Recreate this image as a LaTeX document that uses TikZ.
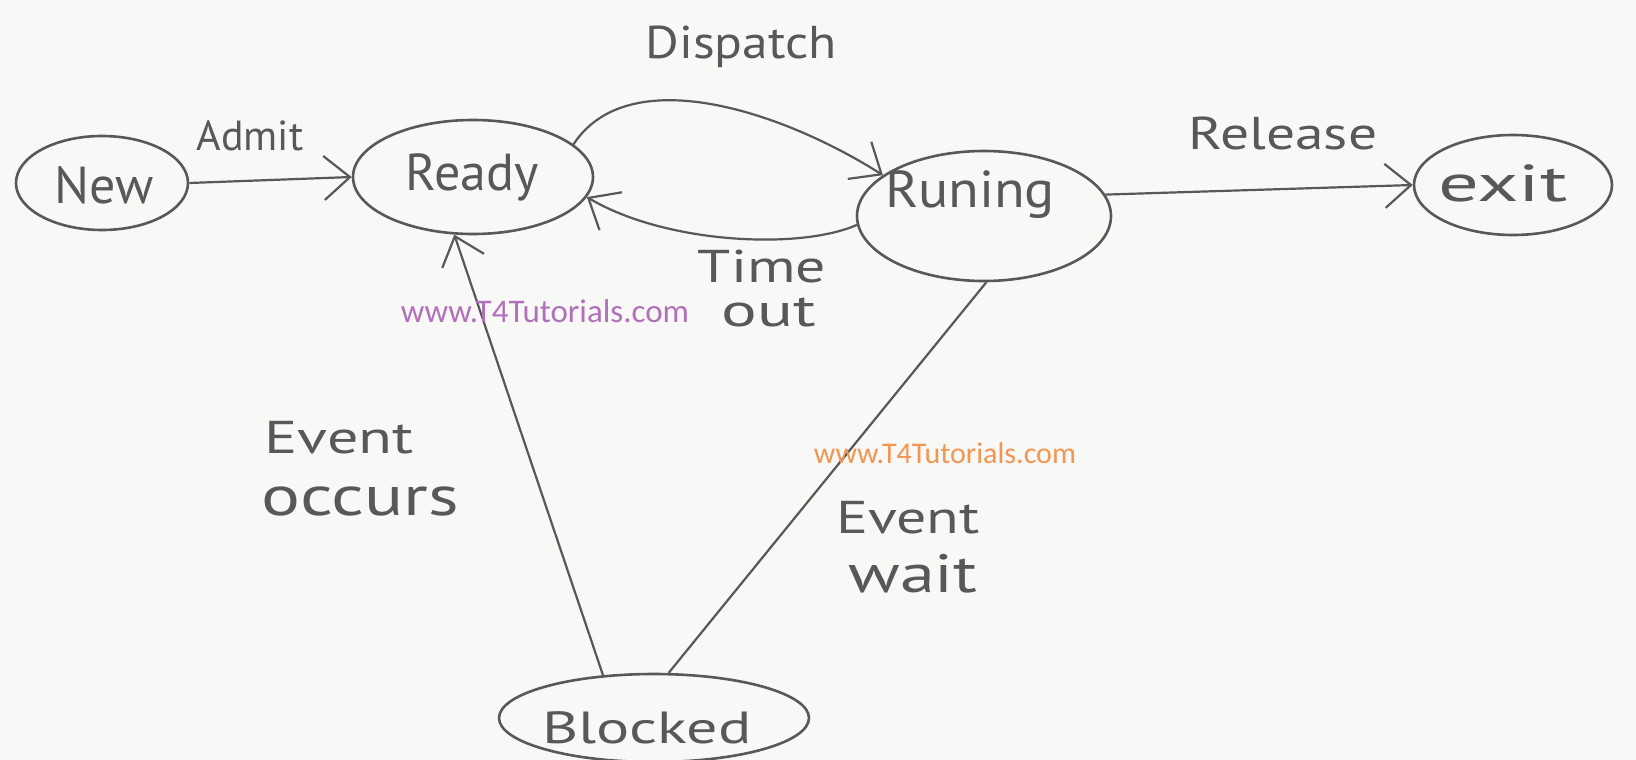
\documentclass[tikz,border=0pt]{standalone}
\usepackage{fontspec}
\setmainfont{PT Sans}
\newfontfamily\wmfont{Carlito}
\usetikzlibrary{arrows.meta,shapes.geometric}
\definecolor{ink}{RGB}{88,88,88}
\definecolor{paper}{RGB}{248,248,246}
\definecolor{wmpurple}{RGB}{178,112,188}
\definecolor{wmorange}{RGB}{243,150,82}
% text placed with an offset from the node centre: #1 = x shift, #2 = raise of the baseline
\newcommand\offtext[3]{\makebox[0pt]{\raisebox{#2}[0pt][0pt]{\kern#1\kern#1 #3}}}
\begin{document}
\begin{tikzpicture}[x=1pt,y=-1pt,
  state/.style={ellipse, draw=ink, line width=2.6pt, inner sep=0pt, text=ink,
                font=\fontsize{52}{56}\selectfont},
  lbl/.style={text=ink, inner sep=0pt, font=\fontsize{46}{50}\selectfont},
  wm/.style={inner sep=0pt, font=\wmfont\fontsize{33}{36}\selectfont},
  conn/.style={draw=ink, line width=2.2pt},
  arr/.style={conn, -{Straight Barb[length=26pt,width=44pt]}}
]
\fill[paper] (0,0) rectangle (1636,760);
\useasboundingbox (0,0) rectangle (1636,760);

% states
\node[state, minimum width=172pt, minimum height=94pt]  (new)     at (102,183)  {\offtext{2pt}{-20pt}{New}};
\node[state, minimum width=240pt, minimum height=114pt] (ready)   at (473,177)  {\offtext{-1pt}{-13pt}{Ready}};
\node[state, minimum width=254pt, minimum height=130pt] (running) at (984,216)  {\offtext{-14pt}{9pt}{\scalebox{1.08}[1]{Runing}}};
\node[state, minimum width=198pt, minimum height=100pt] (exit)    at (1513,185) {\offtext{-10pt}{-16pt}{\scalebox{1.55}[1]{exit}}};
\node[state, minimum width=310pt, minimum height=88pt]  (blocked) at (654,718)  {\offtext{-7pt}{-25pt}{\fontsize{45}{50}\selectfont\scalebox{1.38}[1]{Blocked}}};

% connectors
\draw[arr] (new.east) -- (ready.west);
\draw[arr] (ready.18) .. controls (628,61) and (780,110) .. (running.158);
\draw[arr] (running.184) .. controls (800,250) and (666,244) .. (ready.350);
\draw[arr] (running.10) -- (exit.west);
\draw[arr] (blocked.140) -- (ready.252);
\draw[conn] (running.272) -- (blocked.72);

% labels
\node[lbl, font=\fontsize{42}{46}\selectfont] (admit) at (250,136) {Admit};
\node[lbl] (dispatch) at (741,47) {\scalebox{1.12}[1]{Dispatch}};
\node[lbl] (time) at (762,266) {\scalebox{1.3}[1]{Time}};
\node[lbl] (out) at (769,312) {\scalebox{1.45}[1]{out}};
\node[lbl] (release) at (1283,133) {\scalebox{1.25}[1]{Release}};
\node[lbl] (event1) at (339,438) {\scalebox{1.35}[1]{Event}};
\node[lbl, font=\fontsize{56}{60}\selectfont] (occurs) at (360,501) {\scalebox{1.3}[1]{occurs}};
\node[lbl] (event2) at (908,518) {\scalebox{1.3}[1]{Event}};
\node[lbl, font=\fontsize{54}{58}\selectfont] (wait) at (913,574) {\scalebox{1.3}[1]{wait}};

% watermarks
\node[wm, text=wmpurple] (wm1) at (545,311) {www.T4Tutorials.com};
\node[wm, text=wmorange, font=\wmfont\fontsize{30}{34}\selectfont] (wm2) at (945,453) {www.T4Tutorials.com};
\end{tikzpicture}
\end{document}
